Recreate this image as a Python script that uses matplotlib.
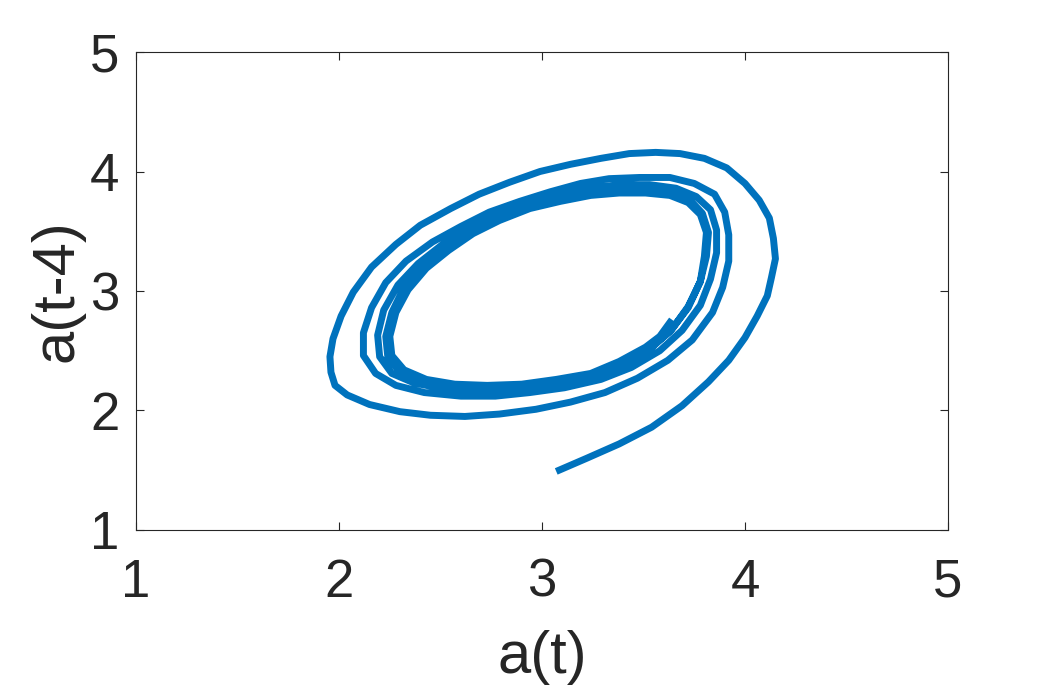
import matplotlib
matplotlib.use("Agg")
import matplotlib.pyplot as plt
import numpy as np

# trajectory a(t) vs a(t-4), one loop per block
loop1_x = [3.07, 3.22, 3.38, 3.54, 3.69, 3.82, 3.92, 4.00, 4.06, 4.11, 4.13, 4.15, 4.14, 4.12,
           4.07, 4.00, 3.91, 3.80, 3.68, 3.56, 3.43, 3.29, 3.14, 2.99, 2.84, 2.69, 2.55, 2.40,
           2.28, 2.16, 2.07, 2.01, 1.97, 1.955, 1.96, 1.98, 2.04, 2.15, 2.30, 2.45, 2.62, 2.79,
           2.97, 3.14, 3.31, 3.47, 3.62, 3.74, 3.84, 3.89, 3.92]
loop1_y = [1.49, 1.60, 1.72, 1.86, 2.04, 2.24, 2.42, 2.61, 2.79, 2.96, 3.11, 3.27, 3.44, 3.61,
           3.76, 3.90, 4.03, 4.11, 4.15, 4.16, 4.15, 4.11, 4.06, 4.00, 3.91, 3.81, 3.69, 3.55,
           3.39, 3.20, 2.99, 2.79, 2.60, 2.45, 2.32, 2.21, 2.13, 2.05, 1.99, 1.96, 1.95, 1.97,
           2.01, 2.07, 2.15, 2.27, 2.42, 2.59, 2.82, 3.03, 3.25]
loop2_x = [3.92, 3.90, 3.85, 3.75, 3.63, 3.48, 3.33, 3.19, 3.04, 2.89, 2.74, 2.60, 2.46, 2.33,
           2.23, 2.16, 2.12, 2.12, 2.18, 2.28, 2.42, 2.60, 2.77, 2.94, 3.11, 3.29, 3.44, 3.58,
           3.69, 3.78, 3.83, 3.86]
loop2_y = [3.47, 3.66, 3.81, 3.90, 3.95, 3.95, 3.94, 3.90, 3.83, 3.75, 3.66, 3.54, 3.41, 3.25,
           3.07, 2.86, 2.65, 2.46, 2.31, 2.21, 2.15, 2.12, 2.12, 2.15, 2.19, 2.26, 2.36, 2.50,
           2.67, 2.88, 3.10, 3.32]
loop3_x = [3.86, 3.83, 3.76, 3.66, 3.53, 3.38, 3.24, 3.09, 2.94, 2.79, 2.65, 2.51, 2.39, 2.29,
           2.22, 2.19, 2.20, 2.26, 2.37, 2.52, 2.69, 2.87, 3.04, 3.21, 3.37, 3.51, 3.63, 3.72,
           3.78, 3.81]
loop3_y = [3.51, 3.68, 3.79, 3.86, 3.89, 3.89, 3.86, 3.81, 3.74, 3.64, 3.53, 3.39, 3.23, 3.05,
           2.84, 2.63, 2.45, 2.31, 2.23, 2.18, 2.17, 2.18, 2.21, 2.27, 2.36, 2.49, 2.66, 2.86,
           3.08, 3.29]
loop4_x = [3.82, 3.79, 3.73, 3.64, 3.52, 3.38, 3.24, 3.09, 2.94, 2.79, 2.66, 2.53, 2.41, 2.32,
           2.26, 2.23, 2.24, 2.30, 2.41, 2.55, 2.72, 2.89, 3.06, 3.24, 3.39, 3.53, 3.64, 3.72,
           3.78, 3.80]
loop4_y = [3.49, 3.65, 3.76, 3.82, 3.85, 3.85, 3.82, 3.78, 3.70, 3.61, 3.49, 3.36, 3.21, 3.03,
           2.82, 2.62, 2.45, 2.32, 2.25, 2.21, 2.20, 2.21, 2.24, 2.30, 2.39, 2.51, 2.68, 2.87,
           3.08, 3.29]
loop5_x = [3.81, 3.78, 3.72, 3.63, 3.51, 3.38, 3.24, 3.09, 2.94, 2.79, 2.66, 2.54, 2.43, 2.34,
           2.28, 2.25, 2.26, 2.32, 2.43, 2.57, 2.73, 2.90, 3.07, 3.24, 3.38, 3.51, 3.58, 3.64]
loop5_y = [3.49, 3.64, 3.74, 3.80, 3.82, 3.82, 3.80, 3.75, 3.69, 3.59, 3.48, 3.34, 3.19, 3.01,
           2.82, 2.62, 2.46, 2.34, 2.26, 2.22, 2.21, 2.22, 2.26, 2.31, 2.41, 2.53, 2.62, 2.76]

ticks = [1, 2, 3, 4, 5]

a_t = np.concatenate([loop1_x, loop2_x, loop3_x, loop4_x, loop5_x])
a_lag = np.concatenate([loop1_y, loop2_y, loop3_y, loop4_y, loop5_y])

plt.rcParams['font.family'] = ['Liberation Sans', 'DejaVu Sans']

fig = plt.figure(figsize=(10.47, 6.88), dpi=100)
ax = fig.add_axes([0.130, 0.2297, 0.7754, 0.6947])
ax.plot(a_t, a_lag, color='#0072BD', linewidth=5, solid_joinstyle='round', solid_capstyle='butt')

ax.set_xlim(1, 5)
ax.set_ylim(1, 5)
ax.set_xticks(ticks)
ax.set_yticks(ticks)
ax.tick_params(direction='in', length=6, width=0.8, labelsize=38, colors='#262626',
               top=True, right=True)
ax.tick_params(axis='x', pad=20)
ax.tick_params(axis='y', pad=12)
for s in ax.spines.values():
    s.set_linewidth(0.8)
    s.set_color('#262626')
ax.set_xlabel('a(t)', fontsize=43, color='#262626', labelpad=16)
ax.set_ylabel('a(t-4)', fontsize=43, color='#262626', labelpad=4)

fig.savefig('out.png', dpi=100)
